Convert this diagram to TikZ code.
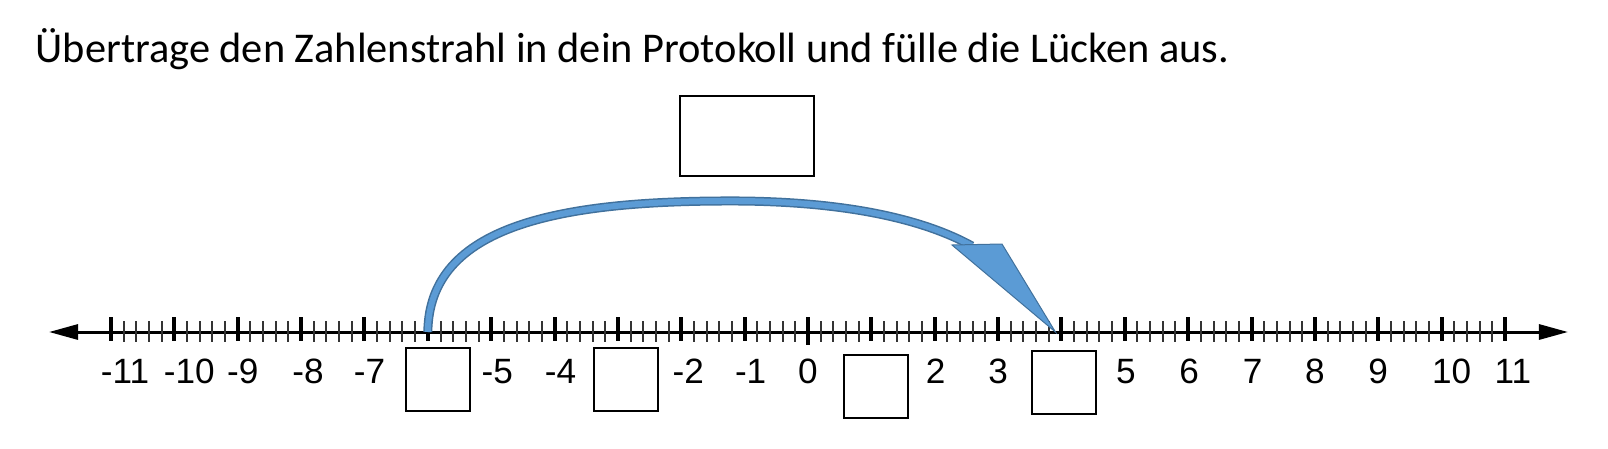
\documentclass[tikz,border=0pt]{standalone}
\usepackage{fontspec}
\setmainfont{Liberation Sans}
\newfontfamily\taskfont{Carlito}
\usepackage{tikz}
\usetikzlibrary{arrows.meta}

\definecolor{jumpfill}{HTML}{5B9BD5}
\definecolor{jumpedge}{HTML}{41719C}

\tikzset{
    bigtick/.style={line width=0.04cm},
    smalltick/.style={line width=0.02cm, black!80},
    num/.style={anchor=base, inner sep=0, font=\fontsize{10}{12}\selectfont},
    shaft/.style={draw=jumpedge, line width=0.015cm, double=jumpfill, double distance=0.06cm},
    head/.style={fill=jumpfill, draw=jumpedge, line width=0.01cm}
}

\begin{document}
\begin{tikzpicture}[x=0.01cm, y=-0.01cm]
    \useasboundingbox (0,0) rectangle (1608,448);
    % task line
    \node[anchor=base west, inner sep=0, font=\taskfont\fontsize{12.05}{14}\selectfont] (task) at (35,62)
        {Übertrage den Zahlenstrahl in dein Protokoll und fülle die Lücken aus.};

    % the number line
    \coordinate (left) at (49,332);
    \coordinate (right) at (1568,332);
    \draw[line width=0.03cm, {Triangle[length=0.29cm, width=0.15cm]}-{Triangle[length=0.29cm, width=0.15cm]}] (left) -- (right);
    \foreach \m in {-11,...,10}
        \foreach \j in {1,2,3,4}
            \draw[smalltick] ({808+63.36*(\m+\j/5)},321) -- ++(0,21);
    \foreach \m in {-11,...,11}{
        \coordinate (t\m) at ({808+63.36*\m},332);
        \draw[bigtick] (t\m) ++(0,-15) -- ++(0,24);
    }
    \draw[bigtick] (t0) ++(0,-15) -- ++(0,28);
    % labels, a little off their ticks as in the sheet
    \foreach \m/\dx in {-11/14,-10/15,-9/5,-8/7,-7/5,-5/6,-4/6,-2/7,-1/6,0/0,
                        2/1,3/0,5/1,6/1,7/1,8/0,9/0,10/10,11/8}
        \node[num] (n\m) at ({808+63.36*\m+\dx},383) {\m};

    % empty boxes
    \begin{scope}[every node/.style={draw, line width=0.02cm, inner sep=0,
        minimum width=0.64cm, minimum height=0.63cm}]
        \node (gap-6) at (438,379.5) {};
        \node (gap-3) at (626,379.5) {};
        \node (gap1) at (876,386.5) {};
        \node (gap4) at (1064,382.5) {};
        \node[minimum width=1.34cm, minimum height=0.80cm] (jump) at (747,136) {};
    \end{scope}

    % the jump
    \draw[shaft] (t-6) .. controls (429,225) and (560,200) .. (740,201)
        .. controls (850,202) and (925,220) .. (972,246);
    \draw[head] (952,245) -- (1002,244) -- ([xshift=-0.06cm]t4) -- cycle;
\end{tikzpicture}
\end{document}
